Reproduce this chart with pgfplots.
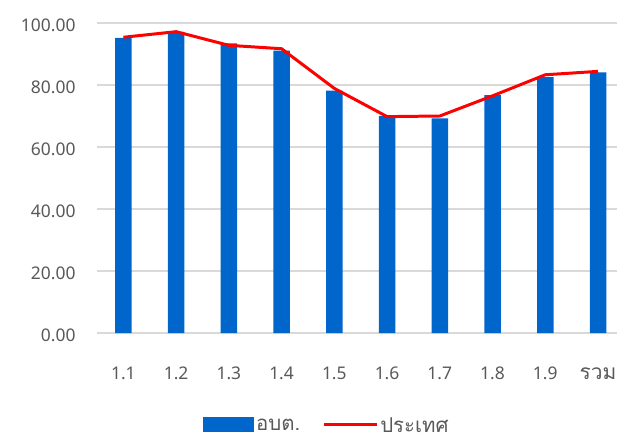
\documentclass[border=0pt]{standalone}
\usepackage{pgfplots}
\pgfplotsset{compat=1.18}
\usepackage{fontspec}
\setmainfont{Noto Sans}
\newfontfamily\thaifont[Script=Thai]{Loma}
\definecolor{barblue}{HTML}{0066CC}
\definecolor{txtgray}{HTML}{595959}
\definecolor{gridgray}{HTML}{D9D9D9}
\begin{document}
\begin{tikzpicture}
\begin{axis}[
  scale only axis,
  width=520bp, height=310bp,
  xmin=-0.5, xmax=9.36,
  ymin=0, ymax=100,
  ytick={0,20,40,60,80,100},
  xtick={0,...,9},
  xticklabels={1.1,1.2,1.3,1.4,1.5,1.6,1.7,1.8,1.9,{\fontsize{21}{24}\selectfont\thaifont รวม}},
  axis line style={draw=none},
  major tick length=0pt,
  ymajorgrids, grid style={gridgray, line width=1.2pt},
  y tick label style={/pgf/number format/.cd, fixed, fixed zerofill, precision=2, /tikz/.cd},
  /pgf/number format/assume math mode=true,
  tick label style={font=\fontsize{17.5}{20}\selectfont, text=txtgray},
  yticklabel style={xshift=-18bp, yshift=-2bp},
  xticklabel style={yshift=-46bp, anchor=base},
  legend style={at={(0.442,-0.296)}, anchor=center, draw=none, legend columns=2,
    font=\fontsize{20.5}{24}\selectfont\thaifont, text=txtgray,
    nodes={text depth=0pt, inner ysep=1bp},
    /tikz/every even column/.append style={column sep=20bp}},
]
\addplot[ybar, bar width=16.5bp, fill=barblue, draw=none,
  legend image code/.code={\fill[barblue] (0bp,-7.5bp) rectangle (51bp,7.5bp);}]
  coordinates {(0,95.2) (1,97.1) (2,93.4) (3,91.1) (4,78.2) (5,70.0) (6,69.2) (7,76.7) (8,82.5) (9,84.1)};
\addlegendentry{อบต.}
\addplot[red, line width=3pt, line join=round,
  legend image code/.code={\draw[red, line width=3pt] (0bp,0bp) -- (53bp,0bp);}]
  coordinates {(0,95.4) (1,97.2) (2,92.8) (3,91.7) (4,78.9) (5,69.8) (6,70.0) (7,76.5) (8,83.3) (9,84.4)};
\addlegendentry{ประเทศ}
\end{axis}
\pgfresetboundingbox
\path[use as bounding box] (-97bp,-108bp) rectangle (520bp,333bp);
\end{tikzpicture}
\end{document}
